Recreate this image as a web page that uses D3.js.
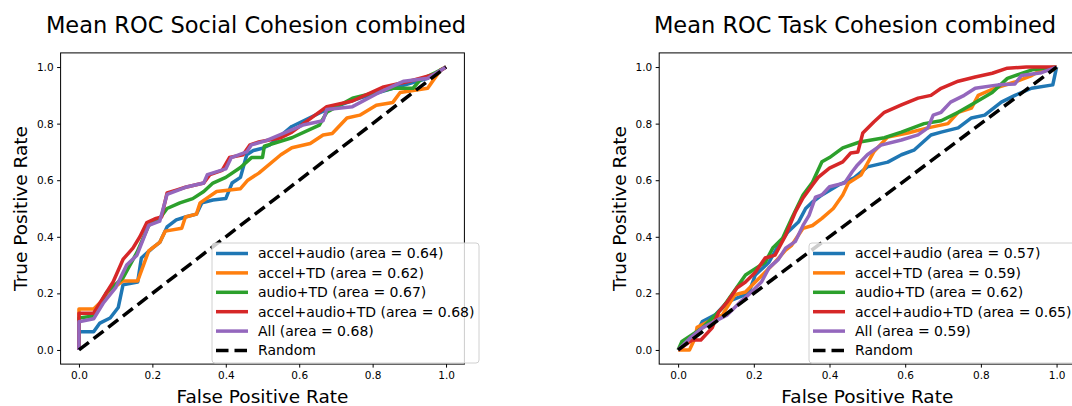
<!DOCTYPE html>
<html>
<head>
<meta charset="utf-8">
<script src="https://cdn.jsdelivr.net/npm/d3@7"></script>
<style>
  body { margin: 0; background: #fff; }
  svg { display: block; font-family: 'DejaVu Sans', sans-serif; }
</style>
</head>
<body>
<svg id="chart"></svg>
<script>
// Values: [false positive rate, true positive rate]
const socialAccelAudio = [[0,0],[0,0.064],[0.04,0.064],[0.057,0.095],[0.085,0.113],[0.107,0.15],[0.12,0.23],[0.16,0.24],[0.17,0.325],[0.2,0.36],[0.22,0.38],[0.24,0.435],[0.265,0.46],[0.29,0.47],[0.32,0.48],[0.335,0.52],[0.365,0.53],[0.4,0.535],[0.417,0.59],[0.44,0.61],[0.457,0.69],[0.475,0.705],[0.5,0.713],[0.52,0.725],[0.58,0.79],[0.675,0.85],[0.765,0.89],[0.855,0.925],[0.95,0.96],[1,1]];
const socialAccelTD = [[0,0],[0,0.145],[0.04,0.145],[0.06,0.17],[0.08,0.205],[0.12,0.244],[0.16,0.244],[0.19,0.35],[0.22,0.38],[0.235,0.42],[0.28,0.43],[0.29,0.47],[0.32,0.48],[0.33,0.52],[0.375,0.56],[0.44,0.57],[0.46,0.6],[0.49,0.625],[0.55,0.69],[0.58,0.715],[0.63,0.73],[0.665,0.76],[0.69,0.765],[0.73,0.82],[0.765,0.83],[0.81,0.865],[0.855,0.875],[0.875,0.91],[0.95,0.925],[0.985,0.99],[1,1]];
const socialAudioTD = [[0,0],[0,0.113],[0.04,0.12],[0.076,0.205],[0.12,0.255],[0.158,0.345],[0.19,0.44],[0.22,0.465],[0.24,0.5],[0.275,0.52],[0.31,0.535],[0.34,0.56],[0.365,0.59],[0.4,0.61],[0.44,0.645],[0.47,0.68],[0.5,0.68],[0.505,0.72],[0.58,0.75],[0.655,0.795],[0.675,0.84],[0.745,0.89],[0.855,0.925],[0.91,0.925],[0.93,0.955],[0.97,0.98],[1,1]];
const socialAccelAudioTD = [[0,0],[0,0.13],[0.04,0.13],[0.066,0.185],[0.093,0.24],[0.12,0.32],[0.147,0.36],[0.166,0.4],[0.185,0.45],[0.21,0.465],[0.225,0.47],[0.24,0.555],[0.265,0.565],[0.29,0.575],[0.34,0.59],[0.357,0.62],[0.39,0.635],[0.41,0.68],[0.447,0.69],[0.466,0.725],[0.49,0.735],[0.55,0.75],[0.58,0.77],[0.675,0.86],[0.745,0.88],[0.83,0.93],[0.9,0.95],[0.97,0.975],[1,1]];
const socialAll = [[0,0],[0,0.1],[0.04,0.11],[0.066,0.165],[0.1,0.22],[0.13,0.3],[0.158,0.335],[0.19,0.44],[0.22,0.455],[0.24,0.55],[0.29,0.575],[0.34,0.59],[0.35,0.62],[0.4,0.64],[0.415,0.68],[0.457,0.7],[0.47,0.725],[0.51,0.74],[0.61,0.795],[0.665,0.81],[0.675,0.85],[0.745,0.86],[0.81,0.905],[0.885,0.95],[0.95,0.96],[1,1]];

const taskAccelAudio = [[0,0],[0.045,0.053],[0.064,0.1],[0.098,0.124],[0.13,0.17],[0.186,0.2],[0.204,0.265],[0.24,0.31],[0.265,0.37],[0.29,0.417],[0.318,0.452],[0.337,0.5],[0.355,0.523],[0.38,0.548],[0.424,0.583],[0.465,0.608],[0.5,0.647],[0.554,0.664],[0.59,0.69],[0.623,0.706],[0.668,0.76],[0.695,0.77],[0.74,0.785],[0.775,0.82],[0.81,0.83],[0.854,0.876],[0.89,0.9],[0.934,0.925],[0.99,0.937],[1,1]];
const taskAccelTD = [[0,0],[0.03,0],[0.045,0.042],[0.05,0.08],[0.08,0.1],[0.117,0.124],[0.15,0.195],[0.178,0.205],[0.204,0.24],[0.23,0.275],[0.256,0.31],[0.284,0.353],[0.3,0.37],[0.33,0.43],[0.355,0.44],[0.38,0.465],[0.41,0.5],[0.435,0.548],[0.45,0.59],[0.483,0.618],[0.517,0.7],[0.554,0.753],[0.607,0.767],[0.66,0.785],[0.713,0.8],[0.74,0.84],[0.775,0.855],[0.793,0.9],[0.836,0.925],[0.89,0.947],[0.934,0.97],[0.96,0.99],[0.99,0.99],[1,1]];
const taskAudioTD = [[0,0],[0.01,0.03],[0.064,0.078],[0.117,0.148],[0.178,0.265],[0.23,0.31],[0.25,0.36],[0.276,0.395],[0.3,0.465],[0.33,0.548],[0.355,0.593],[0.38,0.665],[0.4,0.68],[0.435,0.714],[0.48,0.735],[0.545,0.75],[0.59,0.77],[0.65,0.8],[0.695,0.81],[0.74,0.84],[0.785,0.875],[0.83,0.91],[0.87,0.96],[0.935,0.99],[1,1]];
const taskAccelAudioTD = [[0,0],[0.037,0.035],[0.06,0.035],[0.09,0.078],[0.107,0.134],[0.13,0.17],[0.156,0.22],[0.178,0.24],[0.204,0.275],[0.23,0.325],[0.256,0.335],[0.284,0.405],[0.31,0.488],[0.33,0.537],[0.355,0.583],[0.37,0.61],[0.4,0.643],[0.435,0.665],[0.456,0.696],[0.475,0.7],[0.488,0.767],[0.517,0.806],[0.545,0.84],[0.59,0.866],[0.634,0.89],[0.668,0.9],[0.695,0.925],[0.74,0.95],[0.785,0.965],[0.83,0.978],[0.87,0.996],[0.92,1],[1,1]];
const taskAll = [[0,0],[0.03,0.04],[0.064,0.078],[0.13,0.124],[0.165,0.17],[0.19,0.2],[0.22,0.24],[0.24,0.29],[0.265,0.32],[0.284,0.36],[0.31,0.384],[0.33,0.44],[0.346,0.476],[0.363,0.54],[0.38,0.548],[0.4,0.577],[0.44,0.59],[0.46,0.63],[0.474,0.654],[0.5,0.69],[0.536,0.724],[0.59,0.742],[0.634,0.76],[0.66,0.785],[0.674,0.83],[0.695,0.84],[0.72,0.876],[0.756,0.9],[0.785,0.925],[0.846,0.937],[0.89,0.94],[0.907,0.97],[0.96,0.98],[1,1]];

const randomLine = [[0,0],[1,1]];

const socialLabels = ['accel+audio (area = 0.64)', 'accel+TD (area = 0.62)', 'audio+TD (area = 0.67)', 'accel+audio+TD (area = 0.68)', 'All (area = 0.68)', 'Random'];
const taskLabels = ['accel+audio (area = 0.57)', 'accel+TD (area = 0.59)', 'audio+TD (area = 0.62)', 'accel+audio+TD (area = 0.65)', 'All (area = 0.59)', 'Random'];
const tickValues = [0, 0.2, 0.4, 0.6, 0.8, 1.0];

const colors = ['#1f77b4', '#ff7f0e', '#2ca02c', '#d62728', '#9467bd', '#000000'];
const dash = '12.5,6';

class RocChart {
  constructor(_config, _series, _labels) {
    this.config = _config;
    this.series = _series;
    this.labels = _labels;
    this.initVis();
  }

  initVis() {
    let vis = this;
    const c = vis.config;

    vis.xScale = d3.scaleLinear().domain([-0.05, 1.05]).range([c.left, c.right]);
    vis.yScale = d3.scaleLinear().domain([-0.05, 1.05]).range([c.bottom, c.top]);

    vis.g = d3.select(c.parentElement).append('g');

    vis.line = d3.line()
        .x(d => vis.xScale(d[0]))
        .y(d => vis.yScale(d[1]));

    // curves, random dashed line drawn last
    vis.g.append('g').selectAll('path')
      .data(vis.series)
      .join('path')
        .attr('d', vis.line)
        .attr('fill', 'none')
        .attr('stroke', (d, i) => colors[i])
        .attr('stroke-width', 3.5)
        .attr('stroke-linejoin', 'round')
        .attr('stroke-dasharray', (d, i) => i === 5 ? dash : null);

    // axes
    const xAxis = d3.axisBottom(vis.xScale).tickValues(tickValues).tickFormat(d3.format('.1f'))
        .tickSizeOuter(0).tickSize(3.5).tickPadding(3.5);
    const yAxis = d3.axisLeft(vis.yScale).tickValues(tickValues).tickFormat(d3.format('.1f'))
        .tickSizeOuter(0).tickSize(3.5).tickPadding(3.5);

    vis.g.append('g')
        .attr('transform', `translate(0,${c.bottom})`)
        .call(xAxis)
        .call(g => g.select('.domain').remove())
        .style('font-size', '10.5px')
        .style('font-family', 'DejaVu Sans');
    vis.g.append('g')
        .attr('transform', `translate(${c.left},0)`)
        .call(yAxis)
        .call(g => g.select('.domain').remove())
        .style('font-size', '10.5px')
        .style('font-family', 'DejaVu Sans');

    vis.g.append('rect')
        .attr('x', c.left).attr('y', c.top)
        .attr('width', c.right - c.left).attr('height', c.bottom - c.top)
        .attr('fill', 'none').attr('stroke', '#000').attr('stroke-width', 1);

    // titles
    vis.g.append('text')
        .attr('x', c.titleX)
        .attr('y', 32.5)
        .attr('text-anchor', 'middle')
        .style('font-size', '22.5px')
        .text(c.title);
    vis.g.append('text')
        .attr('x', (c.left + c.right) / 2)
        .attr('y', 402.5)
        .attr('text-anchor', 'middle')
        .style('font-size', '18.5px')
        .text('False Positive Rate');
    vis.g.append('text')
        .attr('transform', `translate(${c.left - 39.6},${(c.top + c.bottom) / 2}) rotate(-90)`)
        .attr('text-anchor', 'middle')
        .attr('dy', '0.35em')
        .style('font-size', '18.5px')
        .text('True Positive Rate');

    // legend
    const lg = vis.g.append('g').attr('transform', `translate(${c.legendX},${c.legendY})`);
    lg.append('rect')
        .attr('width', 267).attr('height', 120)
        .attr('rx', 3)
        .attr('fill', 'rgba(255,255,255,0.8)')
        .attr('stroke', '#d0d0d0');
    const rows = lg.selectAll('.row')
      .data(vis.labels)
      .join('g')
        .attr('class', 'row')
        .attr('transform', (d, i) => `translate(0,${10.5 + i * 19.4})`);
    rows.append('line')
        .attr('x1', 4).attr('x2', 36)
        .attr('stroke', (d, i) => colors[i])
        .attr('stroke-width', 3.5)
        .attr('stroke-dasharray', (d, i) => i === 5 ? dash : null);
    rows.append('text')
        .attr('x', 46)
        .attr('dy', '0.35em')
        .style('font-size', '14px')
        .text(d => d);
  }
}

const svg = d3.select('#chart')
    .attr('width', 1072)
    .attr('height', 406);
svg.append('rect').attr('width', 1072).attr('height', 406).attr('fill', '#fff');

new RocChart({
  parentElement: '#chart', left: 60.6, right: 464.4, top: 52.9, bottom: 364.1,
  title: 'Mean ROC Social Cohesion combined', titleX: 256, legendX: 212, legendY: 243
}, [socialAccelAudio, socialAccelTD, socialAudioTD, socialAccelAudioTD, socialAll, randomLine], socialLabels);

new RocChart({
  parentElement: '#chart', left: 659.2, right: 1075.5, top: 52.9, bottom: 364.1,
  title: 'Mean ROC Task Cohesion combined', titleX: 855, legendX: 809, legendY: 243
}, [taskAccelAudio, taskAccelTD, taskAudioTD, taskAccelAudioTD, taskAll, randomLine], taskLabels);
</script>
</body>
</html>
